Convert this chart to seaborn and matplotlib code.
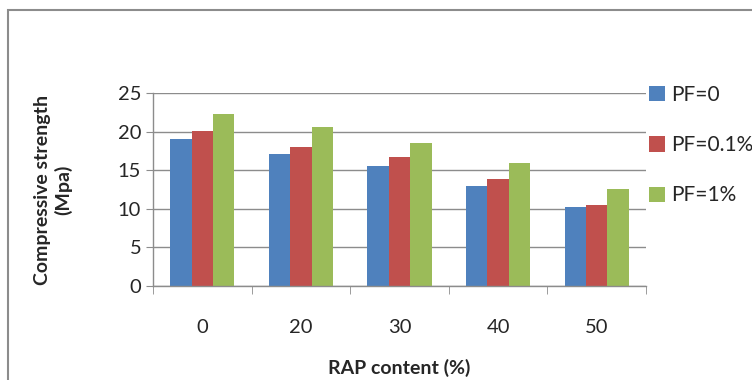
import matplotlib
matplotlib.use("Agg")
import matplotlib.pyplot as plt
import numpy as np
import pandas as pd
import seaborn as sns
from matplotlib.patches import Rectangle

rap = ["0", "20", "30", "40", "50"]
pf0 = [19.1, 17.1, 15.5, 12.9, 10.2]
pf01 = [20.1, 18.0, 16.7, 13.9, 10.5]
pf1 = [22.3, 20.6, 18.5, 15.9, 12.6]
series = ["PF=0", "PF=0.1%", "PF=1%"]
colors = ["#4F81BD", "#C0504D", "#9BBB59"]

df = pd.DataFrame({
    "rap": rap * 3,
    "strength": pf0 + pf01 + pf1,
    "pf": [s for s in series for _ in rap],
})

sns.set_style("white")
plt.rcParams['font.family'] = ['Lato', 'DejaVu Sans']

fig = plt.figure(figsize=(7.52, 3.8), dpi=100)
ax = fig.add_axes([153 / 752, 1 - 286 / 380, (646 - 153) / 752, (286 - 93) / 380])

sns.barplot(data=df, x="rap", y="strength", hue="pf", palette=colors,
            width=0.65, gap=0, saturation=1, ax=ax, edgecolor="none")

ax.set_ylim(0, 25)
ax.set_yticks(range(0, 26, 5))
ax.set_xlim(-0.5, 4.5)
ax.grid(axis="y", color="#8C8C8C", linewidth=1)
ax.set_axisbelow(True)
for s in ["top", "right"]:
    ax.spines[s].set_visible(False)
for s in ["left", "bottom"]:
    ax.spines[s].set_color("#8C8C8C")
    ax.spines[s].set_linewidth(1)

ax.set_xticks(np.arange(-0.5, 5, 1), minor=True)
ax.tick_params(axis="x", which="minor", length=6, color="#8C8C8C", direction="out")
ax.tick_params(axis="x", which="major", length=0, pad=24, labelsize=14.5)
ax.tick_params(axis="y", length=5, color="#8C8C8C", direction="out", labelsize=14.5)
ax.yaxis.set_ticks_position("left")
ax.xaxis.set_ticks_position("bottom")

ax.set_xlabel("RAP content (%)", fontsize=14, fontweight="bold", labelpad=16)
ax.set_ylabel("Compressive strength\n(Mpa)", fontsize=14, fontweight="bold", labelpad=33)

handles, labels = ax.get_legend_handles_labels()
ax.get_legend().remove()
fig.legend(handles, labels, loc="upper left", bbox_to_anchor=(649 / 752, 1 - 85 / 380),
           frameon=False, fontsize=15, handlelength=0.75, handleheight=0.75,
           handletextpad=0.3, labelspacing=1.45, borderaxespad=0, borderpad=0)

fig.patches.append(Rectangle((8 / 752, -0.1), 1.2, 1 - 10 / 380 + 0.1,
                             transform=fig.transFigure, fill=False,
                             edgecolor="#8C8C8C", linewidth=1.5))

fig.savefig("out.png", dpi=100)
